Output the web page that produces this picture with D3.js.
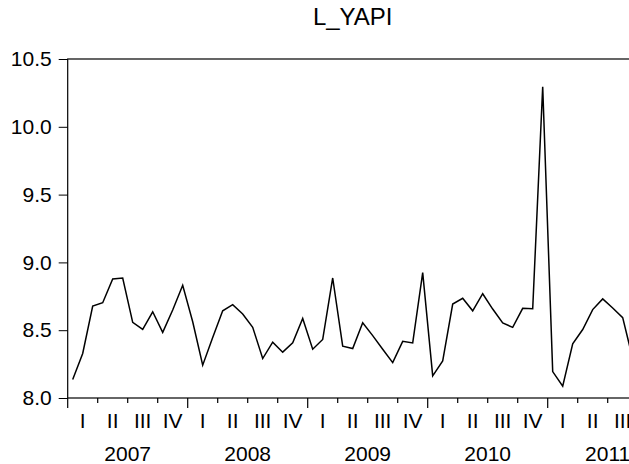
<!DOCTYPE html>
<html>
<head>
<meta charset="utf-8">
<script src="https://cdn.jsdelivr.net/npm/d3@7"></script>
<style>
  body { margin: 0; background: #fff; }
  svg { display: block; font-family: "Liberation Sans", Arial, sans-serif; }
</style>
</head>
<body>
<div id="chart"></div>
<script>
(function() {

// monthly observations, 2007M01 .. 2011M09
var years = [2007, 2008, 2009, 2010, 2011];
var quarters = ["I", "II", "III", "IV"];
var yTicks = [8.0, 8.5, 9.0, 9.5, 10.0, 10.5];

var v2007 = [8.136, 8.328, 8.678, 8.703, 8.878, 8.885, 8.558, 8.506, 8.636, 8.484, 8.649, 8.831];
var v2008 = [8.562, 8.242, 8.447, 8.643, 8.688, 8.619, 8.521, 8.291, 8.412, 8.338, 8.407, 8.587];
var v2009 = [8.360, 8.432, 8.885, 8.382, 8.365, 8.555, 8.460, 8.360, 8.261, 8.418, 8.406, 8.925];
var v2010 = [8.163, 8.273, 8.693, 8.735, 8.643, 8.769, 8.656, 8.553, 8.521, 8.661, 8.658, 10.296];
var v2011 = [8.195, 8.088, 8.400, 8.505, 8.652, 8.731, 8.664, 8.593, 8.290];

var l_yapi = v2007.concat(v2008, v2009, v2010, v2011);

var width = 629, height = 464;
var plotL = 67.7, plotR = 637.7, plotT = 59, plotB = 398;
var nMonths = 57;

var svg = d3.select("#chart").append("svg")
    .attr("width", width)
    .attr("height", height);

var x = d3.scaleLinear().domain([0, nMonths]).range([plotL, plotR]);
var y = d3.scaleLinear().domain([8.0, 10.5]).range([plotB, plotT]);

// title
svg.append("text")
    .attr("x", (plotL + plotR) / 2)
    .attr("y", 25)
    .attr("text-anchor", "middle")
    .style("font-size", "24px")
    .text("L_YAPI");

// frame
svg.append("rect")
    .attr("x", plotL).attr("y", plotT)
    .attr("width", plotR - plotL).attr("height", plotB - plotT)
    .attr("fill", "none")
    .attr("stroke", "#000")
    .attr("stroke-width", 1.2);

// y axis
var yAxis = svg.append("g")
    .attr("transform", "translate(" + plotL + ",0)")
    .call(d3.axisLeft(y).tickValues(yTicks).tickFormat(d3.format(".1f")).tickSize(9).tickPadding(7));
yAxis.select(".domain").remove();
yAxis.selectAll("text").style("font-size", "21px").attr("fill", "#000");
yAxis.selectAll("line").attr("stroke", "#000");
yAxis.attr("font-family", null);

// x axis: quarter ticks, longer ones at year starts
var qIdx = d3.range(0, nMonths + 1, 3);
svg.append("g").selectAll("line")
    .data(qIdx)
    .join("line")
    .attr("x1", d => x(d)).attr("x2", d => x(d))
    .attr("y1", plotB)
    .attr("y2", d => plotB + (d % 12 === 0 ? 10 : 5))
    .attr("stroke", "#000")
    .attr("stroke-width", 1.2);

var qLabels = qIdx.slice(0, -1).map(d => ({ i: d, t: quarters[(d / 3) % 4] }));
svg.append("g").selectAll("text")
    .data(qLabels)
    .join("text")
    .attr("x", d => x(d.i + 1.5))
    .attr("y", 428)
    .attr("text-anchor", "middle")
    .style("font-size", "21px")
    .text(d => d.t);

svg.append("g").selectAll("text")
    .data(years)
    .join("text")
    .attr("x", (d, i) => x(i * 12 + 6))
    .attr("y", 461)
    .attr("text-anchor", "middle")
    .style("font-size", "21px")
    .text(d => d);

// series
var line = d3.line()
    .x((d, i) => x(i + 0.5))
    .y(d => y(d));

svg.append("path")
    .datum(l_yapi)
    .attr("d", line)
    .attr("fill", "none")
    .attr("stroke", "#000")
    .attr("stroke-width", 1.5)
    .attr("stroke-linejoin", "miter");

})()
</script>
</body>
</html>
